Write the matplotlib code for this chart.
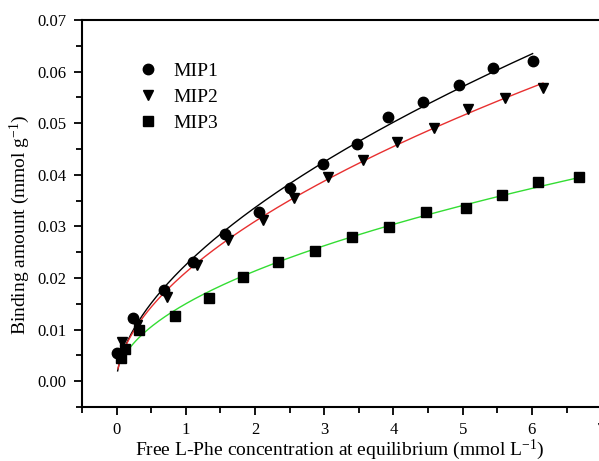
import matplotlib
matplotlib.use('Agg')
import matplotlib.pyplot as plt
from matplotlib.ticker import MultipleLocator
import numpy as np

plt.rcParams['font.family'] = ['Liberation Serif', 'DejaVu Serif']
plt.rcParams['mathtext.fontset'] = 'custom'
plt.rcParams['mathtext.rm'] = 'Liberation Serif'
plt.rcParams['mathtext.it'] = 'Liberation Serif:italic'

# equilibrium concentration (mmol/L) and bound amount (mmol/g)
mip1_x = [0.01, 0.24, 0.68, 1.11, 1.57, 2.05, 2.51, 2.98, 3.47, 3.92, 4.43, 4.94, 5.44, 6.01]
mip1_y = [0.0054, 0.0123, 0.0176, 0.0231, 0.0286, 0.0327, 0.0375, 0.0421, 0.0459, 0.0512,
          0.0541, 0.0575, 0.0607, 0.0621]
mip2_x = [0.08, 0.29, 0.73, 1.16, 1.61, 2.11, 2.56, 3.05, 3.56, 4.05, 4.58, 5.07, 5.61, 6.16]
mip2_y = [0.0076, 0.0108, 0.0163, 0.0225, 0.0273, 0.0312, 0.0356, 0.0396, 0.0428, 0.0464,
          0.0490, 0.0528, 0.0549, 0.0568]
mip3_x = [0.06, 0.12, 0.32, 0.84, 1.34, 1.82, 2.33, 2.87, 3.40, 3.94, 4.47, 5.05, 5.57,
          6.09, 6.68]
mip3_y = [0.0045, 0.0063, 0.0099, 0.0126, 0.0161, 0.0202, 0.0231, 0.0253, 0.0280, 0.0299,
          0.0328, 0.0336, 0.0360, 0.0386, 0.0395]

series = [
    ('MIP1', mip1_x, mip1_y, 'o', 'black', 0.015),
    ('MIP2', mip2_x, mip2_y, 'v', '#e83030', 0.02),
    ('MIP3', mip3_x, mip3_y, 's', '#33dd33', 0.06),
]


def freundlich_fit(x, y):
    # q = a * c^n, least squares in linear space (scan n, solve a directly)
    x = np.asarray(x)
    y = np.asarray(y)
    best = None
    for n in np.linspace(0.2, 1.0, 801):
        xn = x ** n
        a = np.sum(xn * y) / np.sum(xn * xn)
        err = np.sum((y - a * xn) ** 2)
        if best is None or err < best[0]:
            best = (err, a, n)
    return best[1], best[2]


fig = plt.figure(figsize=(5.99, 4.61), dpi=100)
ax = fig.add_axes([82 / 599, 1 - 407 / 461, 553.75 / 599, 387 / 461])

handles = []
for name, x, y, mk, col, x0 in series:
    a, n = freundlich_fit(x, y)
    xf = np.linspace(x0, max(x), 300)
    ax.plot(xf, a * xf ** n, color=col, lw=1.0, zorder=2)
    h, = ax.plot(x, y, linestyle='none', marker=mk, color='black', markersize=7.5, zorder=3,
                 label=name)
    handles.append(h)

ax.set_xlim(-0.5, 7.5)
ax.set_ylim(-0.005, 0.07)
ax.xaxis.set_minor_locator(MultipleLocator(0.5))
ax.yaxis.set_minor_locator(MultipleLocator(0.005))
ax.set_yticks(np.arange(0, 0.0701, 0.01))
ax.set_yticklabels(['%.2f' % v for v in np.arange(0, 0.0701, 0.01)])
ax.set_xticks(range(0, 8))
ax.set_xticklabels([str(i) for i in range(0, 8)])

ax.tick_params(which='major', direction='out', length=6, width=1.3, labelsize=12, pad=5)
ax.tick_params(which='minor', direction='out', length=4, width=1.3)
ax.tick_params(top=False, right=False)
for s in ax.spines.values():
    s.set_linewidth(1.5)

ax.set_xlabel('Free L-Phe concentration at equilibrium (mmol L$^{\\mathregular{-1}}$)',
              fontsize=14)
ax.set_ylabel('Binding amount (mmol g$^{\\mathregular{-1}}$)', fontsize=14)
ax.xaxis.set_label_coords((340 - 82) / 553.75, -0.078)
ax.yaxis.set_label_coords(-0.09, 0.47)

ax.legend(handles=handles, loc='upper left', bbox_to_anchor=(0.08, 0.91), frameon=False,
          fontsize=14, handletextpad=0.6, labelspacing=0.42, handlelength=1.4,
          borderaxespad=0)

fig.savefig('out.png', dpi=100)
plt.close()
